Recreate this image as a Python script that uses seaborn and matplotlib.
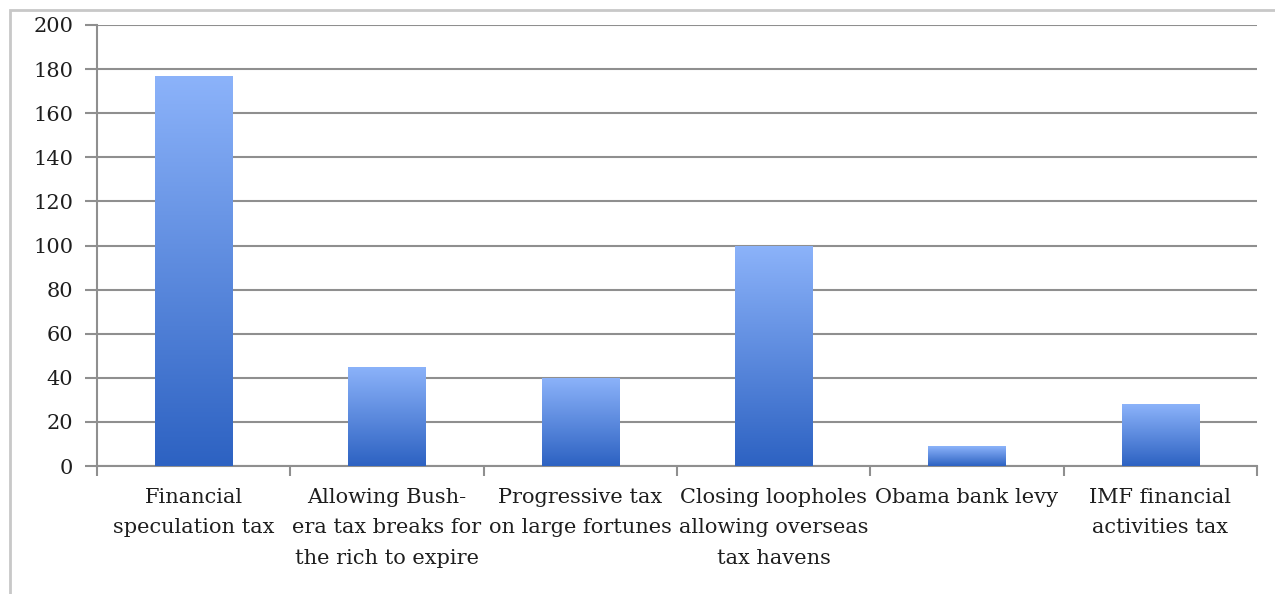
import numpy as np
import pandas as pd
import matplotlib
matplotlib.use("Agg")
import matplotlib.pyplot as plt
import seaborn as sns
from matplotlib.colors import LinearSegmentedColormap
from matplotlib.patches import Rectangle

categories = [
    "Financial\nspeculation tax",
    "Allowing Bush-\nera tax breaks for\nthe rich to expire",
    "Progressive tax\non large fortunes",
    "Closing loopholes\nallowing overseas\ntax havens",
    "Obama bank levy",
    "IMF financial\nactivities tax",
]
values = [177, 45, 40, 100, 9, 28]
yticks = [0, 20, 40, 60, 80, 100, 120, 140, 160, 180, 200]

sns.set_theme(style="white")
plt.rcParams['font.family'] = ['DejaVu Serif']

fig = plt.figure(figsize=(12.75, 5.94), dpi=100)
ax = fig.add_axes([97/1275, 1 - 466/594, (1257-97)/1275, (466-25)/594])

df = pd.DataFrame({"cat": categories, "val": values})
sns.barplot(data=df, x="cat", y="val", ax=ax, width=0.4, color="#5a8ae0",
            saturation=1, zorder=3)

ax.set_ylim(0, 200)
ax.set_xlim(-0.5, len(categories) - 0.5)
ax.set_yticks(yticks)
ax.set_xlabel("")
ax.set_ylabel("")

# gradient fill
cmap = LinearSegmentedColormap.from_list("g", ["#2d62c2", "#8cb3fa"])
grad = np.linspace(0, 1, 256).reshape(-1, 1)
for p in list(ax.patches):
    x0, y0 = p.get_x(), p.get_y()
    w, h = p.get_width(), p.get_height()
    im = ax.imshow(grad, cmap=cmap, origin="lower", aspect="auto",
                   extent=[x0, x0 + w, y0, y0 + h], zorder=4)
    im.set_clip_path(p)
    p.set_facecolor("none")
    p.set_edgecolor("none")
ax.set_xlim(-0.5, len(categories) - 0.5)
ax.set_ylim(0, 200)

# grid
ax.yaxis.grid(True, color="#8f8f8f", linewidth=1.5, zorder=0)
ax.xaxis.grid(False)
for s in ["top", "right"]:
    ax.spines[s].set_visible(False)
for s in ["left", "bottom"]:
    ax.spines[s].set_color("#8f8f8f")
    ax.spines[s].set_linewidth(1.5)

# ticks
ax.tick_params(axis="y", which="major", left=True, length=9, width=1.5,
               color="#8f8f8f", labelsize=15, labelcolor="#1e1e1e", pad=8)
ax.set_xticks(range(len(categories)))
ax.set_xticklabels(categories, fontsize=15, color="#1e1e1e", linespacing=1.75)
ax.tick_params(axis="x", which="major", bottom=False, pad=10)
ax.set_xticks(np.arange(-0.5, len(categories), 1.0), minor=True)
ax.tick_params(axis="x", which="minor", bottom=True, length=7, width=1.5,
               color="#8f8f8f")

# outer frame (left and top edges)
fig.patches.append(Rectangle((10/1275, -0.1), 1.2, 1.1 - 10/594,
                             transform=fig.transFigure, fill=False,
                             edgecolor="#c8c8c8", linewidth=2))

fig.savefig("out.png", dpi=100)
